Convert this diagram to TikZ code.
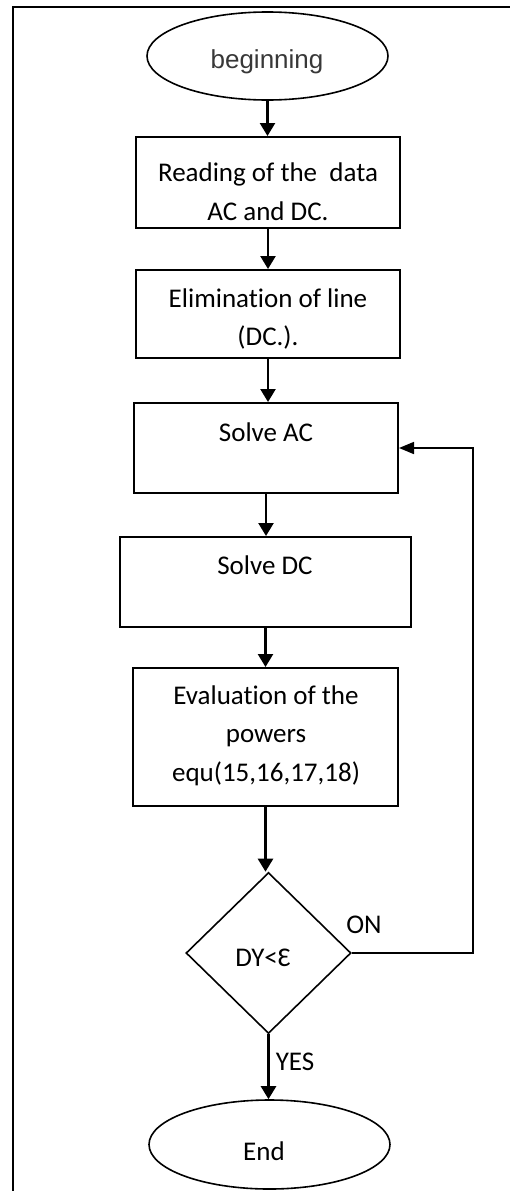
\documentclass[tikz,border=0pt]{standalone}
\usepackage{fontspec}
\setmainfont{Carlito}[Ligatures=NoCommon]
\newfontfamily\arialf{Liberation Sans}
\usetikzlibrary{shapes.geometric,arrows.meta}
\definecolor{begingray}{HTML}{383838}
\begin{document}
\begin{tikzpicture}[x=1pt,y=-1pt,
  boxshape/.style={draw,rectangle,line width=2pt,inner sep=0pt},
  ovalshape/.style={draw,ellipse,line width=1.6pt,inner sep=0pt,minimum width=241pt},
  decshape/.style={draw,diamond,line width=1.6pt,inner sep=0pt,minimum width=165pt,minimum height=161pt},
  txt/.style={inner sep=0pt,anchor=base,font=\fontsize{27}{39}\selectfont},
  flowarrow/.style={line width=2.5pt,-{Triangle[width=15pt,length=13pt]}},
  looparrow/.style={line width=1.7pt,-{Triangle[width=12pt,length=15pt]}},
  framedraw/.style={line width=2.2pt}
]
\useasboundingbox (0,0) rectangle (510,1191);
% frame
\coordinate (fbl) at (13,1191);
\coordinate (ftl) at (13,7);
\coordinate (ftr) at (510,7);
\draw[framedraw] (fbl) -- (ftl) -- (ftr);

% shapes
\node[ovalshape,minimum height=88pt] (start) at (267.5,56) {};
\node[boxshape,minimum width=264pt,minimum height=91pt] (b1) at (268,182.5) {};
\node[boxshape,minimum width=264pt,minimum height=88pt] (b2) at (268,314) {};
\node[boxshape,minimum width=264pt,minimum height=90pt] (b3) at (266,448) {};
\node[boxshape,minimum width=291pt,minimum height=90pt] (b4) at (265.5,582) {};
\node[boxshape,minimum width=265pt,minimum height=138pt] (b5) at (265.5,737) {};
\node[decshape] (dec) at (268.5,953) {};
\node[ovalshape,minimum height=89pt] (stop) at (269.5,1144.5) {};

% texts
\node[txt,font=\arialf\fontsize{26}{30}\selectfont,text=begingray] (tstart) at (267,68) {beginning};
\node[txt] (t1a) at (268,181) {Reading of the\ \ data};
\node[txt] (t1b) at (268,220) {AC and DC.};
\node[txt] (t2a) at (268,307) {Elimination of line};
\node[txt] (t2b) at (268,345) {(DC.).};
\node[txt] (t3) at (266,441) {Solve AC};
\node[txt] (t4) at (265,574) {Solve DC};
\node[txt] (t5a) at (266,704) {Evaluation of the};
\node[txt] (t5b) at (266,742) {powers};
\node[txt] (t5c) at (266,781) {equ(15,16,17,18)};
\node[txt] (tdec) at (263,966) {DY<Ɛ};
\node[txt] (ton) at (364,933) {ON};
\node[txt] (tyes) at (295,1070) {YES};
\node[txt] (tstop) at (264,1160) {End};

% connectors
\draw[flowarrow] (start.south) -- (start.south |- b1.north);
\draw[flowarrow] (b1.south) -- (b1.south |- b2.north);
\draw[flowarrow] (b2.south) -- (b2.south |- b3.north);
\draw[flowarrow] (b3.south) -- (b3.south |- b4.north);
\draw[flowarrow] (b4.south) -- (b4.south |- b5.north);
\draw[flowarrow] (b5.south) -- (b5.south |- dec.north);
\draw[flowarrow] (dec.south) -- (dec.south |- stop.north);
\coordinate (loopc) at (473,448);
\draw[looparrow] (dec.east) -| (loopc) -- (b3.east);
\end{tikzpicture}
\end{document}
